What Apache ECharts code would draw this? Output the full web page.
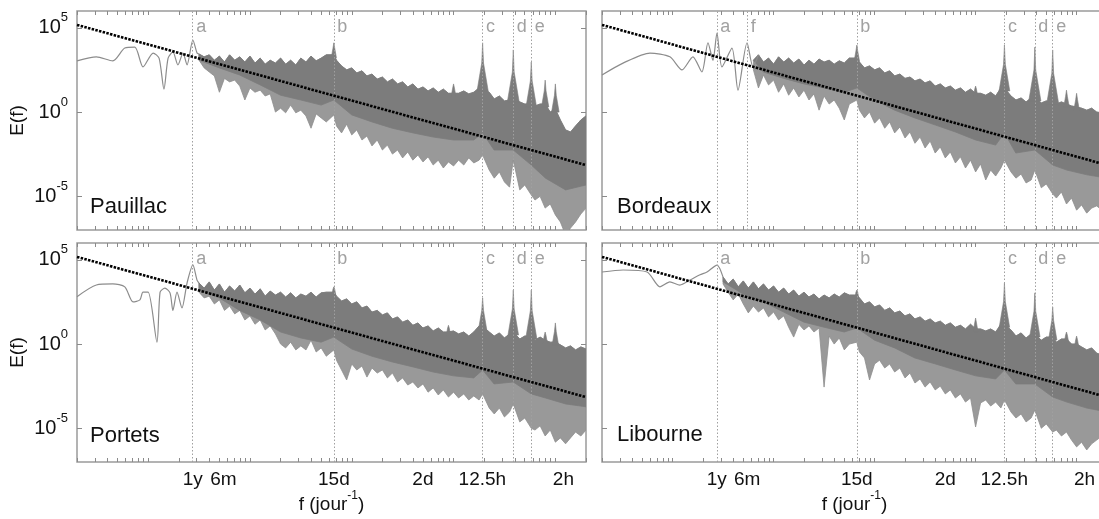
<!DOCTYPE html>
<html><head><meta charset="utf-8">
<script src="https://cdn.jsdelivr.net/npm/echarts@6/dist/echarts.min.js"></script>
<style>html,body{margin:0;padding:0;background:#fff}#c{width:1099px;height:519px}</style>
</head><body><div id="c"></div>
<script>
// ---------------- data ----------------
const stations = ['Pauillac', 'Bordeaux', 'Portets', 'Libourne'];
const xTickValues = [0.00274, 0.00548, 0.0667, 0.5, 1.92, 12];
const xTickLabels = ['1y', '6m', '15d', '2d', '12.5h', '2h'];
const yTickValues = [1e-5, 1, 1e5];
const markerLetters = ['a', 'f', 'b', 'c', 'd', 'e'];
const markerFreqs = [0.00274, 0.00548, 0.0667, 1.93, 3.86, 5.8];
const panelMarkers = [['a','b','c','d','e'], ['a','f','b','c','d','e'], ['a','b','c','d','e'], ['a','b','c','d','e']];
const fitLine = [[2e-4, 1.5e5], [20, 7.1e-4]];

// frequency grid of the dense part of the spectra (jour^-1)
const fBand = [0.00316,0.00355,0.00398,0.00447,0.00501,0.00562,0.00631,0.00708,0.00794,0.00891,
0.01,0.0112,0.0126,0.0141,0.0158,0.0178,0.02,0.0224,0.0251,0.0282,
0.0316,0.0355,0.0398,0.0447,0.0501,0.0562,0.0667,0.0708,0.0794,0.0891,
0.1,0.112,0.126,0.141,0.158,0.178,0.2,0.224,0.251,0.282,
0.316,0.355,0.398,0.447,0.501,0.562,0.631,0.708,0.794,0.891,
1,1.12,1.26,1.41,1.58,1.78,1.93,2.24,2.51,2.82,
3.16,3.55,3.86,4.47,5.01,5.8,6.31,7.08,7.94,8.91,
10,11.2,12.6,14.1,15.8,17.8,20];
// coarser grid for the lower limit of the dense core of the band
const coreF = [0.00316,0.005,0.0079,0.0126,0.02,0.0316,0.05,0.0667,0.1,0.158,0.25,0.4,0.63,1,1.58,1.93,2.5,3.86,5.8,8,12.6,20];

// ---- Pauillac ----
const pauillacLine = [[2e-4,1.1e3],[3.1e-4,1.9e3],[4.5e-4,1.1e3],[5.9e-4,6.3e3],[7.4e-4,7.2e3],[8.9e-4,4.8e2],[1.12e-3,3.2e3],[1.28e-3,1.6e3],[1.43e-3,23],[1.57e-3,1.6e3],[1.75e-3,3.7e3],[1.96e-3,6.3e2],[2.2e-3,3.2e3],[2.41e-3,6.3e2],[2.75e-3,1.9e4],[3.02e-3,3.2e3],[3.16e-3,2.8e3]];
const pauillacHi = [2.8e3,1.9e3,2.5e3,1.2e3,2.1e3,9.3e2,2.5e3,1.2e3,1.9e3,9.3e2,
2.1e3,8.1e2,1.6e3,7e2,1.2e3,8.1e2,1.6e3,7e2,1.2e3,6.2e2,
1.6e3,9.3e2,2.1e3,1.1e3,1.6e3,2.5e3,2.5e3,1.2e3,5.5e2,3.2e2,
4.2e2,2.1e2,2.8e2,1.4e2,1.8e2,91,1.2e2,62,91,47,
62,31,47,23,31,18,27,15,23,13,
13,13,18,12,15,27,27,15,6,9,
4.6,5.2,6,4,3,3,2.3,3,3,1,
1.5,0.34,0.087,0.066,0.15,0.34,0.59];
const pauillacLo = [1.2e3,4.2e2,2.4e2,1.4e2,15,1.0e2,62,79,35,5.2,
27,15,20,9,12,1,1.7,0.9,2.6,0.9,
1.3,0.59,0.11,0.78,0.45,0.26,0.68,0.15,0.058,0.19,
0.044,0.087,0.022,0.038,9.8e-3,0.022,5.6e-3,0.011,3.2e-3,5.6e-3,
1.9e-3,4.3e-3,1.4e-3,2.8e-3,1.1e-3,2.2e-3,7.2e-4,1.4e-3,4.8e-4,1.1e-3,
6.3e-4,1.4e-3,7.2e-4,1.9e-3,9.5e-4,1.4e-3,2.8e-3,3.6e-4,1.2e-4,2.8e-4,
7.1e-5,3.5e-5,1.4e-3,2.4e-5,4.7e-5,1.2e-5,6e-6,1e-5,2e-6,3.5e-6,
7.9e-7,3e-7,5e-8,1.3e-7,3e-7,8.9e-7,2e-6];
const pauillacCore = [1.2e3,4.2e2,1.6e2,41,10,5.2,2.6,5.2,0.68,0.26,0.11,0.058,0.033,0.022,0.022,0.058,5.6e-3,5.6e-3,7.2e-4,1.2e-4,2.4e-5,4.7e-5];
const pauillacPeaks = [[0.0667,2.5e3,1.3e4],[1.93,27,1.3e4],[3.86,6,4.9e3],[5.8,3,9.3e2],[1,13,47],[7.94,3,79],[10,1.5,47]];

// ---- Bordeaux ----
const bordeauxLine = [[2e-4,1.6e2],[3.23e-4,8.1e2],[5.97e-4,3.2e3],[9.4e-4,1.9e3],[1.24e-3,3.2e2],[1.59e-3,1.9e3],[1.95e-3,2.4e2],[2.24e-3,1.3e4],[2.51e-3,1.2e3],[2.75e-3,4.9e4],[3.08e-3,4.8e2],[3.87e-3,6.3e3],[4.44e-3,20],[5.46e-3,1.3e4],[6.25e-3,4.8e2],[7.08e-3,2.5e3]];
const bordeauxHi = [null,null,null,null,null,null,1.2e3,2.5e3,9.3e2,1.6e3,
7e2,1.9e3,9.3e2,1.6e3,8.1e2,1.4e3,6.2e2,1.2e3,7e2,1.4e3,
9.3e2,1.2e3,7e2,1.1e3,8.1e2,1.6e3,1.6e3,9.3e2,4.2e2,5.5e2,
3.2e2,4.2e2,2.1e2,2.8e2,1.4e2,1.8e2,1.0e2,1.2e2,71,91,
54,71,35,47,27,35,20,27,15,23,
13,13,10,15,9,27,27,9,5.2,6.9,
4,6.9,6.9,3.5,4.6,4,3,4,3,2.3,
2,1.7,1.3,1.7,1,0.9,0.78];
const bordeauxLo = [null,null,null,null,null,null,3.2e2,27,1.6e2,41,
79,15,47,10,27,7.9,20,5.2,12,1.3,
9,3,5.2,1.7,0.34,3,5.2,1.3,0.45,1,
0.22,0.45,0.11,0.26,0.058,0.13,0.029,0.066,0.014,0.033,
7.4e-3,0.019,3.7e-3,8.5e-3,1.9e-3,4.3e-3,9.5e-4,2.2e-3,4.8e-4,1.4e-3,
2.8e-4,8.3e-4,9.3e-5,3.6e-4,1.6e-4,4.8e-4,1.4e-3,2.8e-4,1.2e-4,2.1e-4,
6.2e-5,9.3e-5,3.6e-4,3.2e-5,5.4e-5,1.4e-5,7.9e-6,1.8e-5,3.5e-6,7.9e-6,
1.5e-6,3.1e-6,1e-6,2e-6,2.7e-6,1.5e-6,3.1e-6];
const bordeauxCore = [null,null,2.4e2,1.0e2,47,27,15,27,5.2,1.3,0.45,0.17,0.066,0.022,0.011,0.058,3.7e-3,5.6e-3,7.2e-4,3.6e-4,1.9e-4,1.2e-4];
const bordeauxPeaks = [[0.0667,1.6e3,9.5e3],[1.93,27,9.5e3],[3.86,6.9,7.2e3],[5.8,4,4.9e3],[1,13,35],[7.94,3,20],[10,2,13]];

// ---- Portets ----
const portetsLine = [[2e-4,6.5e2],[3.1e-4,3.2e3],[4.5e-4,3.7e3],[5.9e-4,2.5e3],[7.1e-4,3.2e2],[8.3e-4,4.2e2],[8.9e-4,1.2e3],[1.0e-3,1.2e3],[1.22e-3,1.3],[1.31e-3,1.2e3],[1.46e-3,2.1e3],[1.64e-3,1.1e3],[1.75e-3,1.0e2],[1.92e-3,1.2e3],[2.15e-3,1.4e2],[2.41e-3,4.2e3],[2.75e-3,5e4],[3.02e-3,6.3e3],[3.16e-3,4.2e3]];
const portetsHi = [4.2e3,2.1e3,4.9e3,1.6e3,3.7e3,1.2e3,2.8e3,1.4e3,3.2e3,1.1e3,
2.1e3,9.3e2,1.9e3,7e2,1.4e3,8.1e2,1.2e3,6.2e2,1.1e3,5.5e2,
9.3e2,7e2,1.2e3,6.2e2,1.1e3,1.2e3,1.2e3,7e2,3.6e2,4.8e2,
2.4e2,3.2e2,1.4e2,1.8e2,79,1.0e2,54,71,31,41,
20,27,13,18,9,12,6,9,5.2,5.2,
6,4,5.2,3,5.2,12,12,5.2,3,4.6,
2.3,4,5.2,2,3,3,1.7,2.6,1.7,1.3,
1.3,0.9,0.59,0.78,0.45,0.68,0.51];
const portetsLo = [1.2e3,5.5e2,7e2,2.4e2,4.2e2,1.0e2,1.8e2,62,1.0e2,27,
47,15,27,6.9,12,4,1,0.59,1.3,0.45,
0.78,0.45,1.7,0.34,0.59,0.19,0.45,0.11,0.029,7.4e-3,
0.066,0.029,0.05,0.011,0.038,0.019,0.029,9.8e-3,0.019,5.6e-3,
9.8e-3,3.7e-3,5.6e-3,2.5e-3,4.3e-3,1.4e-3,2.5e-3,9.5e-4,1.9e-3,7.2e-4,
1.4e-3,6.3e-4,1.1e-3,4.8e-4,8.3e-4,4.8e-4,1.1e-3,1.6e-4,7.1e-5,1.6e-4,
4.7e-5,9.3e-5,2.8e-4,2.4e-5,4.1e-5,1e-5,7.9e-6,1.4e-5,3.5e-6,7.9e-6,
1.5e-6,2.7e-6,1.2e-6,2.7e-6,6e-6,3.5e-6,7.9e-6];
const portetsCore = [1.6e3,5.5e2,1.0e2,27,5.2,2.3,1.3,2.6,0.51,0.19,0.087,0.044,0.022,0.013,9.8e-3,0.029,4.3e-3,5.6e-3,1.1e-3,6.3e-4,2.8e-4,1.9e-4];
const portetsPeaks = [[0.0667,1.2e3,2.5e3],[1.93,12,5.5e2],[3.86,5.2,1.6e3],[5.8,3,1.6e3],[0.891,5.2,13],[7.94,1.7,5.2],[10,1.3,18]];

// ---- Libourne ----
const libourneLine = [[2e-4,1.9e4],[3.23e-4,2.5e4],[5.59e-4,1.9e4],[7.5e-4,2.5e3],[9.4e-4,4.9e3],[1.18e-3,3.2e3],[1.49e-3,6.3e3],[1.87e-3,1.3e4],[2.19e-3,1.9e4],[2.75e-3,4.9e4],[3.16e-3,9.5e3]];
const libourneHi = [9.5e3,3.7e3,7.2e3,2.5e3,5.6e3,2.1e3,4.9e3,1.9e3,3.7e3,1.6e3,
2.8e3,1.2e3,2.1e3,9.3e2,1.6e3,7e2,1.2e3,6.2e2,9.3e2,4.8e2,
8.1e2,5.5e2,9.3e2,6.2e2,1.1e3,8.1e2,8.1e2,5.5e2,2.4e2,3.2e2,
1.6e2,2.1e2,1.0e2,1.4e2,71,91,47,62,31,41,
23,31,18,23,13,18,10,13,7.9,15,
7.9,7.9,6,7.9,5.2,15,15,6.9,3,4.6,
2.3,4,4,1.7,2.6,2.6,1.3,2,2,1,
1,0.68,0.45,0.59,0.29,0.22,0.17];
const libourneLo = [3.7e3,1.2e3,4.2e2,9.3e2,2.4e2,71,1.8e2,79,1.4e2,41,
79,27,47,10,2.6,15,6.9,12,5.2,9,
2.8e-3,3,1,2.3,0.45,1,1.3,0.34,0.15,7.4e-3,
0.066,0.11,0.038,0.066,0.022,0.038,9.8e-3,0.019,4.9e-3,8.5e-3,
2.8e-3,5.6e-3,1.9e-3,3.2e-3,1.1e-3,1.9e-3,6.3e-4,1.1e-3,3.6e-4,6.3e-4,
1.2e-5,3.2e-4,4.8e-4,2.1e-4,3.6e-4,1.6e-4,4.8e-4,9.3e-5,4.1e-5,7.1e-5,
2.4e-5,4.1e-5,1.2e-4,1e-5,1.8e-5,6e-6,7.9e-6,3.5e-6,6e-6,2e-6,
7.9e-7,1.5e-6,5.2e-7,1.2e-6,2e-6,3.5e-6,2.7e-6];
const libourneCore = [4.9e3,9.3e2,3.2e2,79,20,10,5.2,9,1.7,0.59,0.15,0.066,0.029,0.013,8.5e-3,0.029,4.3e-3,4.3e-3,7.2e-4,3.6e-4,1.6e-4,9.3e-5];
const libournePeaks = [[0.0667,8.1e2,1.6e3],[1.93,15,4.2e3],[3.86,4,1.1e3],[5.8,2.6,1.6e2],[1,7.9,35],[7.94,2,5.2],[10,1,3]];

const panelLines = [pauillacLine, bordeauxLine, portetsLine, libourneLine];
const panelHi = [pauillacHi, bordeauxHi, portetsHi, libourneHi];
const panelLo = [pauillacLo, bordeauxLo, portetsLo, libourneLo];
const panelCore = [pauillacCore, bordeauxCore, portetsCore, libourneCore];
const panelPeaks = [pauillacPeaks, bordeauxPeaks, portetsPeaks, libournePeaks];

// ---------------- layout / style ----------------
const FONT = 'Liberation Sans, Arial, Helvetica, sans-serif';
const CORE = '#7c7c7c', FRINGE = '#999999';
const gridBoxes = [
  {left: 77, top: 11, width: 509, height: 219},
  {left: 602, top: 11, width: 505, height: 219},
  {left: 77, top: 243, width: 509, height: 219},
  {left: 602, top: 243, width: 505, height: 219}
];
const X_MIN = 2e-4, X_MAX = 20, Y_MIN = 1e-7, Y_MAX = 1e6;

const xMinorTicks = [];
for (let e = -4; e <= 1; e++) {
  for (let m = 1; m <= 9; m++) {
    const v = +(m * Math.pow(10, e)).toPrecision(3);
    if (v >= X_MIN && v <= X_MAX) xMinorTicks.push(v);
  }
}

const grid = gridBoxes.map(g => Object.assign({show: true, borderColor: '#9a9a9a', borderWidth: 1.5,
  backgroundColor: 'transparent', containLabel: false, outerBoundsMode: 'none'}, g));

const xAxis = [], yAxis = [];
gridBoxes.forEach((g, i) => {
  const bottomRow = i >= 2, leftCol = (i % 2 === 0);
  const tick = {show: true, inside: true, length: 4, lineStyle: {color: '#8a8a8a', width: 1}, customValues: xMinorTicks};
  xAxis.push({
    type: 'log', gridIndex: i, position: 'bottom', min: X_MIN, max: X_MAX,
    axisLine: {show: false}, splitLine: {show: false}, axisTick: tick,
    axisLabel: {
      show: bottomRow, customValues: xTickValues, margin: 8, color: '#111', fontSize: 19, fontFamily: FONT,
      formatter: function (v) {
        let best = 0, bd = Infinity;
        xTickValues.forEach((t, k) => { const d = Math.abs(Math.log(t) - Math.log(v)); if (d < bd) { bd = d; best = k; } });
        return xTickLabels[best];
      }
    },
    name: bottomRow ? '{t|f (jour}{s|-1}{t|)}' : '', nameLocation: 'middle', nameGap: 27,
    nameTextStyle: {color: '#111', fontFamily: FONT, rich: {
      t: {fontSize: 19, fontFamily: FONT, color: '#111', lineHeight: 20},
      s: {fontSize: 12, fontFamily: FONT, color: '#111', lineHeight: 12, padding: [0, 0, 18, 0]}
    }}
  });
  xAxis.push({
    type: 'log', gridIndex: i, position: 'top', min: X_MIN, max: X_MAX,
    axisLine: {show: false}, splitLine: {show: false}, axisTick: tick, axisLabel: {show: false}
  });
  const ytick = {show: true, inside: true, length: 5, lineStyle: {color: '#8a8a8a', width: 1}, customValues: yTickValues};
  yAxis.push({
    type: 'log', gridIndex: i, position: 'left', min: Y_MIN, max: Y_MAX,
    axisLine: {show: false}, splitLine: {show: false}, axisTick: ytick,
    axisLabel: {
      show: leftCol, customValues: yTickValues, margin: 9,
      formatter: function (v) { return '{b|10}{s|' + Math.round(Math.log10(v)) + '}'; },
      rich: {
        b: {fontSize: 20, fontFamily: FONT, color: '#111', lineHeight: 20},
        s: {fontSize: 13, fontFamily: FONT, color: '#111', lineHeight: 13, padding: [0, 0, 20, 0]}
      }
    },
    name: leftCol ? 'E(f)' : '', nameLocation: 'middle', nameRotate: 90, nameGap: 50,
    nameTextStyle: {fontSize: 19, fontFamily: FONT, color: '#111'}
  });
  yAxis.push({
    type: 'log', gridIndex: i, position: 'right', min: Y_MIN, max: Y_MAX,
    axisLine: {show: false}, splitLine: {show: false}, axisTick: ytick, axisLabel: {show: false}
  });
});

// polygon ring series: data is an ordered ring of [f, E] points
function ringSeries(xi, yi, ring, style, z) {
  return {
    type: 'custom', xAxisIndex: xi, yAxisIndex: yi, clip: true, silent: true, z: z,
    data: ring, encode: {x: 0, y: 1},
    renderItem: function (params, api) {
      if (params.dataIndexInside !== 0) return null;
      const n = params.dataInsideLength, pts = [];
      for (let k = 0; k < n; k++) pts.push(api.coord([api.value(0, k), api.value(1, k)]));
      return {type: 'polygon', shape: {points: pts}, style: style};
    }
  };
}

const series = [];
gridBoxes.forEach((g, i) => {
  const xi = 2 * i, yi = 2 * i;
  const upper = [], lower = [], core = [];
  fBand.forEach((f, k) => {
    if (panelHi[i][k] != null) { upper.push([f, panelHi[i][k]]); lower.push([f, panelLo[i][k]]); }
  });
  coreF.forEach((f, k) => { if (panelCore[i][k] != null) core.push([f, panelCore[i][k]]); });
  // lighter fringe of the spectrum (deep minima)
  series.push(ringSeries(xi, yi, upper.concat(lower.slice().reverse()),
    {fill: FRINGE, stroke: '#8e8e8e', lineWidth: 0.8}, 2));
  // dense dark core of the spectrum
  series.push(ringSeries(xi, yi, upper.concat(core.slice().reverse()),
    {fill: CORE, stroke: CORE, lineWidth: 0.8}, 3));
  // tidal / harmonic peaks
  series.push({
    type: 'custom', xAxisIndex: xi, yAxisIndex: yi, clip: true, silent: true, z: 3,
    data: panelPeaks[i], encode: {x: 0, y: [1, 2]},
    renderItem: function (params, api) {
      const b = api.coord([api.value(0), api.value(1)]);
      const p = api.coord([api.value(0), api.value(2)]);
      const h = b[1] - p[1], w = 1.5 + h * 0.09;
      return {type: 'polygon', shape: {points: [[p[0] - w, b[1] + 3], [p[0] - 0.9, b[1] - h * 0.55], [p[0], p[1]],
        [p[0] + 0.9, b[1] - h * 0.55], [p[0] + w, b[1] + 3]]}, style: {fill: CORE, stroke: CORE, lineWidth: 0.6}};
    }
  });
  // low-frequency part (single curve)
  series.push({
    type: 'line', xAxisIndex: xi, yAxisIndex: yi, data: panelLines[i], showSymbol: false, symbol: 'none',
    smooth: 0.25, lineStyle: {color: '#8c8c8c', width: 1.2}, z: 3, silent: true
  });
  // -5/3 reference line
  series.push({
    type: 'line', xAxisIndex: xi, yAxisIndex: yi, data: fitLine, showSymbol: false, symbol: 'none',
    lineStyle: {color: '#000', width: 2.6, type: [2.5, 1.3]}, z: 5, silent: true
  });
  // harmonic markers: letters + dotted vertical lines
  const marks = panelMarkers[i].map(l => markerFreqs[markerLetters.indexOf(l)]);
  series.push({
    type: 'scatter', xAxisIndex: xi, yAxisIndex: yi, symbolSize: 1, itemStyle: {color: 'rgba(0,0,0,0)'}, z: 6, silent: true,
    data: panelMarkers[i].map((l, k) => ({value: [marks[k], 1.1e5], name: l})),
    label: {show: true, position: 'right', distance: 3, formatter: '{b}', color: '#8a8a8a', fontSize: 18, fontFamily: FONT},
    markLine: {
      silent: true, symbol: ['none', 'none'], animation: false, precision: 8,
      label: {show: false},
      lineStyle: {type: [1.5, 2], color: '#a0a0a0', width: 1},
      data: marks.map(f => ({xAxis: f}))
    }
  });
});

const namePos = [[90, 207], [617, 207], [90, 436], [617, 435]];
const graphic = stations.map((s, i) => ({
  type: 'text', x: namePos[i][0], y: namePos[i][1], z: 100,
  style: {text: s, fontSize: 22, fontFamily: FONT, fill: '#111', verticalAlign: 'middle', align: 'left'}
}));

const chart = echarts.init(document.getElementById('c'), null, {renderer: 'canvas'});
chart.setOption({animation: false, backgroundColor: '#fff', grid, xAxis, yAxis, series, graphic});
</script></body></html>
